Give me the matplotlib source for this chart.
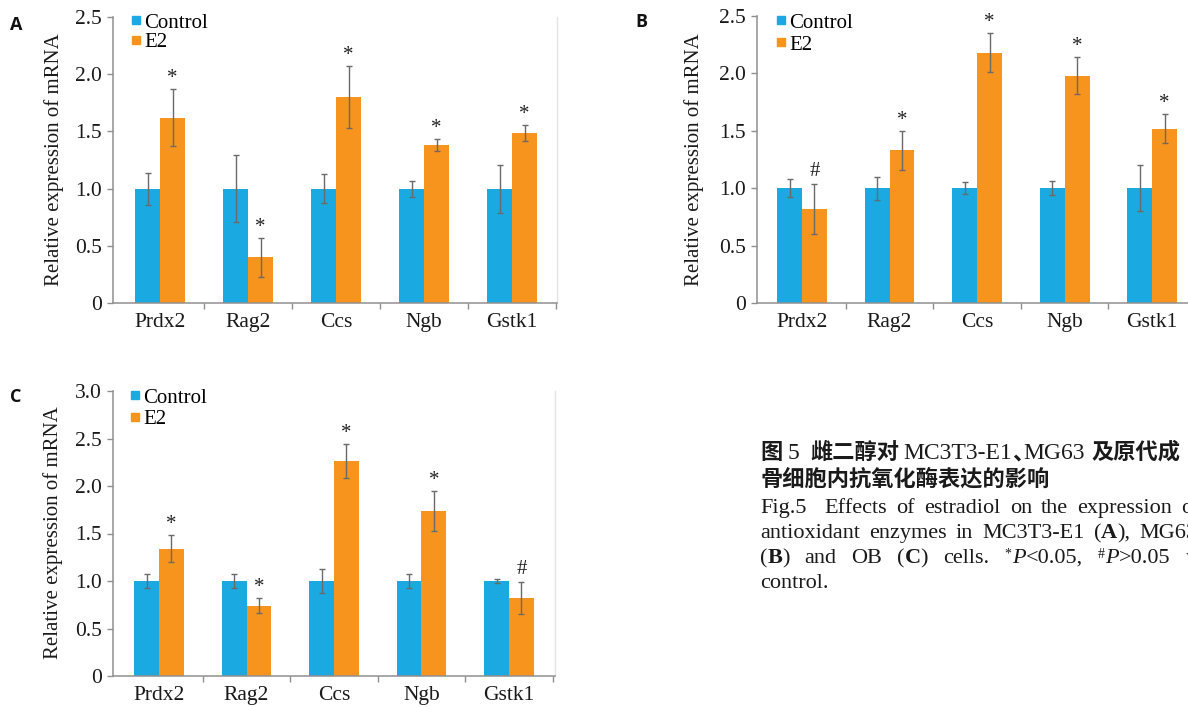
import matplotlib
matplotlib.use("Agg")
import matplotlib.pyplot as plt
from matplotlib.lines import Line2D
import numpy as np

W, H = 1188, 707
SERIF = "Liberation Serif"
CJK = "Noto Sans CJK SC"
SANS = "Open Sans"

BLUE = "#1BA9E1"
ORANGE = "#F7941D"
ERR = "#6a6a6a"
AXIS = "#8f8f8f"

plt.rcParams["font.family"] = [SERIF, CJK]

# ---- data -------------------------------------------------------------
genes = ["Prdx2", "Rag2", "Ccs", "Ngb", "Gstk1"]
series_names = ["Control", "E2"]

# A: MC3T3-E1
a_control = [1.0, 1.0, 1.0, 1.0, 1.0]
a_control_err = [0.14, 0.29, 0.13, 0.07, 0.21]
a_e2 = [1.62, 0.40, 1.80, 1.38, 1.49]
a_e2_err = [0.25, 0.17, 0.27, 0.05, 0.07]
a_marks = ["*", "*", "*", "*", "*"]

# B: MG63
b_control = [1.0, 1.0, 1.0, 1.0, 1.0]
b_control_err = [0.08, 0.10, 0.05, 0.06, 0.20]
b_e2 = [0.82, 1.33, 2.18, 1.98, 1.52]
b_e2_err = [0.22, 0.17, 0.17, 0.16, 0.13]
b_marks = ["#", "*", "*", "*", "*"]

# C: primary osteoblasts
c_control = [1.0, 1.0, 1.0, 1.0, 1.0]
c_control_err = [0.07, 0.07, 0.13, 0.07, 0.02]
c_e2 = [1.34, 0.74, 2.26, 1.74, 0.82]
c_e2_err = [0.14, 0.08, 0.18, 0.21, 0.17]
c_marks = ["*", "*", "*", "*", "#"]

ab_yticks = [0, 0.5, 1.0, 1.5, 2.0, 2.5]
c_yticks = [0, 0.5, 1.0, 1.5, 2.0, 2.5, 3.0]
ylabel = "Relative expression of mRNA"

fig = plt.figure(figsize=(W / 100, H / 100), dpi=100)
renderer = fig.canvas.get_renderer()


def fx(px):
    return px / W


def fy(py):
    return 1 - py / H


def panel(box, xlim, yticks, ctrl, ctrl_err, e2, e2_err, marks,
          letter, letter_xy, ylabel_xy, legend_xy, legend_gap, right_spine=True):
    left, top, right, bottom = box
    ax = fig.add_axes([fx(left), fy(bottom), (right - left) / W, (bottom - top) / H])
    x = np.arange(len(genes))
    bw = 0.284
    ekw = dict(ecolor=ERR, elinewidth=1.0, capsize=2.5, capthick=1.0)
    ax.bar(x - bw / 2, ctrl, bw, color=BLUE, yerr=ctrl_err, error_kw=ekw, zorder=2)
    ax.bar(x + bw / 2, e2, bw, color=ORANGE, yerr=e2_err, error_kw=ekw, zorder=2)
    for xi, v, e, m in zip(x, e2, e2_err, marks):
        off = 6 if m == "*" else 8
        ax.annotate(m, (xi + bw / 2, v + e), xytext=(0, off), textcoords="offset pixels",
                    ha="center", va="baseline", fontsize=15, family=SERIF, color="#222222")
    ax.set_xlim(*xlim)
    ax.set_ylim(yticks[0], yticks[-1])
    ax.set_yticks(yticks)
    ax.set_yticklabels(["0" if v == 0 else f"{v:.1f}" for v in yticks])
    ax.set_xticks(x)
    ax.set_xticklabels(genes)
    ax.set_xticks([0.5, 1.5, 2.5, 3.5, 4.5], minor=True)
    ax.tick_params(axis="x", which="major", length=0, pad=7, labelsize=15.5, labelcolor="#1a1a1a")
    ax.tick_params(axis="x", which="minor", length=4, width=1, color=AXIS, direction="out")
    ax.tick_params(axis="y", length=4, width=1, color=AXIS, pad=4, labelsize=15.5,
                   labelcolor="#1a1a1a")
    for s in ("left", "bottom"):
        ax.spines[s].set_color(AXIS)
        ax.spines[s].set_linewidth(1.1)
    ax.spines["top"].set_visible(False)
    if right_spine:
        ax.spines["right"].set_color("#e4e4e4")
        ax.spines["right"].set_linewidth(1.0)
    else:
        ax.spines["right"].set_visible(False)

    handles = [Line2D([], [], marker="s", ls="none", color=c, markersize=6)
               for c in (BLUE, ORANGE)]
    ax.legend(handles, series_names, loc="upper left",
              bbox_to_anchor=(fx(legend_xy[0]), fy(legend_xy[1])),
              bbox_transform=fig.transFigure, frameon=False, borderpad=0,
              borderaxespad=0, handlelength=0.5, handletextpad=0.15,
              labelspacing=legend_gap, prop=dict(family=SERIF, size=15))

    fig.text(fx(ylabel_xy[0]), fy(ylabel_xy[1]), ylabel, rotation=90,
             ha="center", va="center", fontsize=15, family=SERIF, color="#1a1a1a")
    fig.text(fx(letter_xy[0]), fy(letter_xy[1]), letter, ha="center", va="center",
             fontsize=13, family=SANS, weight="bold", color="#111111")
    return ax


panel((113, 17, 557, 303), (-0.534, 4.51), ab_yticks,
      a_control, a_control_err, a_e2, a_e2_err, a_marks,
      "A", (16, 25), (54, 160), (131, 13), 0.0)
panel((757, 16, 1196, 303), (-0.514, 4.5), ab_yticks,
      b_control, b_control_err, b_e2, b_e2_err, b_marks,
      "B", (641, 22), (694, 160), (776, 13), 0.12, right_spine=False)
panel((113, 391, 555, 676), (-0.526, 4.526), c_yticks,
      c_control, c_control_err, c_e2, c_e2_err, c_marks,
      "C", (16, 397), (53, 533), (130, 388), 0.08)

# ---- caption ----------------------------------------------------------
cjk = dict(family=CJK, weight="bold", fontsize=16, color="#1a1a1a")
lat = dict(family=SERIF, fontsize=17, color="#1a1a1a")
reg = dict(family=SERIF, fontsize=16, color="#1a1a1a")
bold = dict(reg, weight="bold")
ital = dict(reg, style="italic")
sup = dict(family=SERIF, fontsize=10, color="#1a1a1a")


def text_width(text, kw):
    t = fig.text(0, 0, text, **kw)
    w = t.get_window_extent(renderer).width
    t.remove()
    return w


def put_runs(x, y, runs):
    for item in runs:
        if isinstance(item, (int, float)):
            x += item
            continue
        text, kw, dy = item if len(item) == 3 else (item[0], item[1], 0)
        fig.text(fx(x), fy(y - dy), text, ha="left", va="baseline", **kw)
        x += text_width(text, kw)
    return x


def runs_width(runs):
    w = 0
    for item in runs:
        if isinstance(item, (int, float)):
            w += item
        else:
            w += text_width(item[0], item[1])
    return w


def justify(x0, x1, y, words, weights=None):
    widths = [runs_width(w) for w in words]
    n = len(words) - 1
    weights = weights or [1] * n
    gap = (x1 - x0 - sum(widths)) / sum(weights)
    x = x0
    for i, w in enumerate(words):
        put_runs(x, y, w)
        x += widths[i]
        if i < n:
            x += gap * weights[i]


X0 = 760
put_runs(X0, 459, [("图", cjk), 5, ("5", lat), 11, ("雌二醇对", cjk), 4,
                   ("MC3T3-E1", lat), 0, ("、", cjk), -11, ("MG63", lat), 7,
                   ("及原代成", cjk)])
put_runs(X0, 486, [("骨细胞内抗氧化酶表达的影响", cjk)])

justify(X0, 1200, 513,
        [[("Fig.5", reg)], [("Effects", reg)], [("of", reg)], [("estradiol", reg)],
         [("on", reg)], [("the", reg)], [("expression", reg)], [("of", reg)]],
        weights=[2, 1, 1, 1, 1, 1, 1])
justify(X0, 1197, 538,
        [[("antioxidant", reg)], [("enzymes", reg)], [("in", reg)], [("MC3T3-E1", reg)],
         [("(", reg), ("A", bold), ("),", reg)], [("MG63", reg)]])
justify(X0, 1204, 563,
        [[("(", reg), ("B", bold), (")", reg)], [("and", reg)], [("OB", reg)],
         [("(", reg), ("C", bold), (")", reg)], [("cells.", reg)],
         [("*", sup, 5), 1, ("P", ital), ("<0.05,", reg)],
         [("#", sup, 5), 1, ("P", ital), (">0.05", reg)], [("vs", ital)]])
put_runs(X0, 588, [("control.", reg)])

fig.savefig("out.png", dpi=100)
